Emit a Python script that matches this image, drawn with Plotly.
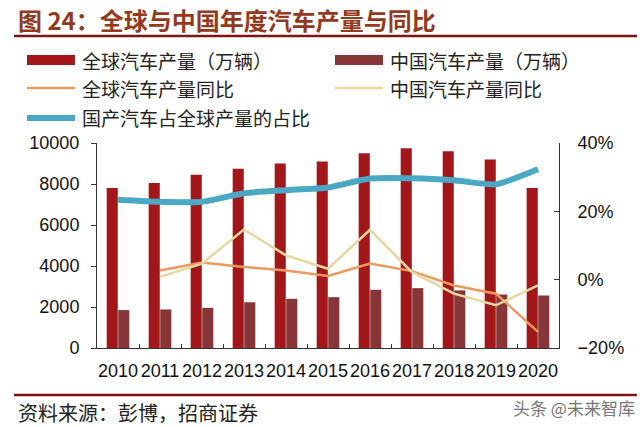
import plotly.graph_objects as go

# ---------------- data ----------------
years = ["2010", "2011", "2012", "2013", "2014", "2015", "2016", "2017", "2018", "2019", "2020"]
global_prod = [7800, 8050, 8450, 8750, 9000, 9100, 9500, 9750, 9600, 9200, 7800]   # 万辆
china_prod = [1850, 1880, 1960, 2230, 2400, 2480, 2840, 2920, 2810, 2610, 2560]     # 万辆
global_yoy = [None, 2.7, 5.0, 3.7, 2.7, 1.1, 4.7, 2.5, -1.7, -4.1, -15.3]          # %
china_yoy = [None, 0.8, 4.7, 14.7, 7.1, 3.2, 14.6, 2.2, -4.1, -7.5, -1.7]          # %
china_share = [23.4, 22.8, 22.8, 25.3, 26.2, 27.0, 29.6, 29.7, 29.1, 27.9, 32.3]  # %

series_names = ["全球汽车产量（万辆）", "中国汽车产量（万辆）", "全球汽车产量同比",
                "中国汽车产量同比", "国产汽车占全球产量的占比"]
title_text = "图 24：全球与中国年度汽车产量与同比"
source_text = "资料来源：彭博，招商证券"
watermark_text = "头条 @未来智库"

# ---------------- style ----------------
C_GLOBAL = "#A3171B"
C_CHINA = "#873637"
C_GYOY = "#EE9A5E"
C_CYOY = "#E5D9A0"
C_SHARE = "#4BA8C5"
C_RULE = "#7F1416"
CJK = "Noto Sans CJK SC"
LAT = "Liberation Sans, Arial"

W, H = 640, 427
L, R, T, B = 97, 81, 143, 79
PW, PH = W - L - R, H - T - B


def px(x):
    return (x - L) / PW


def py(y):
    return (H - B - y) / PH


def pct(vals):
    return [None if v is None else v / 100 for v in vals]


fig = go.Figure()
fig.add_bar(x=years, y=global_prod, name=series_names[0], marker=dict(color=C_GLOBAL, line=dict(width=0)))
fig.add_bar(x=years, y=china_prod, name=series_names[1], marker=dict(color=C_CHINA, line=dict(width=0)))
fig.add_scatter(x=years, y=pct(global_yoy), name=series_names[2], yaxis="y2", mode="lines",
                line=dict(color=C_GYOY, width=2.5))
fig.add_scatter(x=years, y=pct(china_yoy), name=series_names[3], yaxis="y2", mode="lines",
                line=dict(color=C_CYOY, width=2.5))
fig.add_scatter(x=years, y=pct(china_share), name=series_names[4], yaxis="y2", mode="lines",
                line=dict(color=C_SHARE, width=6, shape="spline", smoothing=0.5))

axis_common = dict(showline=True, linecolor="#333333", linewidth=1, showgrid=False, zeroline=False,
                   tickcolor="#333333")
tick_font = dict(family=LAT, size=18, color="#111111")

fig.update_layout(
    width=W, height=H, margin=dict(l=L, r=R, t=T, b=B, pad=0),
    paper_bgcolor="white", plot_bgcolor="white",
    showlegend=False,
    barmode="group", bargap=0.45, bargroupgap=0.04,
    xaxis=dict(type="category", ticks="inside", tickson="boundaries", ticklen=4, tickangle=0,
               ticklabelstandoff=6, tickfont=dict(family=LAT, size=18, color="#111111"), **axis_common),
    yaxis=dict(range=[0, 10000], dtick=2000, tickformat="d", ticks="outside", ticklen=5,
               ticklabelstandoff=8, tickfont=tick_font, **axis_common),
    yaxis2=dict(range=[-0.2, 0.4], dtick=0.2, tickformat=".0%", overlaying="y", side="right",
                ticks="inside", ticklen=5, ticklabelstandoff=14, tickfont=tick_font, **axis_common),
)

shapes = []
annotations = []

# title + rules
annotations.append(dict(text="<b>" + title_text + "</b>", x=px(16), y=py(20), xref="paper", yref="paper",
                        xanchor="left", yanchor="middle", showarrow=False,
                        font=dict(family=CJK, size=24, color="#933A1E")))
shapes.append(dict(type="line", xref="paper", yref="paper", x0=px(14), x1=px(637), y0=py(36), y1=py(36),
                   line=dict(color=C_RULE, width=2.5)))
shapes.append(dict(type="line", xref="paper", yref="paper", x0=px(14), x1=px(637), y0=py(395), y1=py(395),
                   line=dict(color=C_RULE, width=2.5)))
annotations.append(dict(text=source_text, x=px(16), y=py(412), xref="paper", yref="paper",
                        xanchor="left", yanchor="middle", showarrow=False,
                        font=dict(family=CJK, size=20, color="#222222")))
annotations.append(dict(text=watermark_text, x=px(511), y=py(407), xref="paper", yref="paper",
                        xanchor="left", yanchor="middle", showarrow=False,
                        font=dict(family=CJK, size=17, color="#777777")))

# legend (drawn manually to keep the wide swatches)
legend_items = [
    (series_names[0], "bar", C_GLOBAL, 27, 75, 60, 80),
    (series_names[1], "bar", C_CHINA, 335, 383, 60, 388),
    (series_names[2], "line", C_GYOY, 27, 75, 88, 80),
    (series_names[3], "line", C_CYOY, 335, 383, 88, 388),
    (series_names[4], "thick", C_SHARE, 27, 75, 118, 80),
]
for name, kind, color, sx0, sx1, ly, tx in legend_items:
    if kind == "bar":
        shapes.append(dict(type="rect", xref="paper", yref="paper", x0=px(sx0), x1=px(sx1),
                           y0=py(ly + 5), y1=py(ly - 5), fillcolor=color, line=dict(width=0)))
    else:
        shapes.append(dict(type="line", xref="paper", yref="paper", x0=px(sx0), x1=px(sx1),
                           y0=py(ly), y1=py(ly),
                           line=dict(color=color, width=6 if kind == "thick" else 2.5)))
    annotations.append(dict(text=name, x=px(tx), y=py(ly), xref="paper", yref="paper",
                            xanchor="left", yanchor="middle", showarrow=False,
                            font=dict(family=CJK, size=19, color="#222222")))

fig.update_layout(shapes=shapes, annotations=annotations)
fig.write_html("out.html")
